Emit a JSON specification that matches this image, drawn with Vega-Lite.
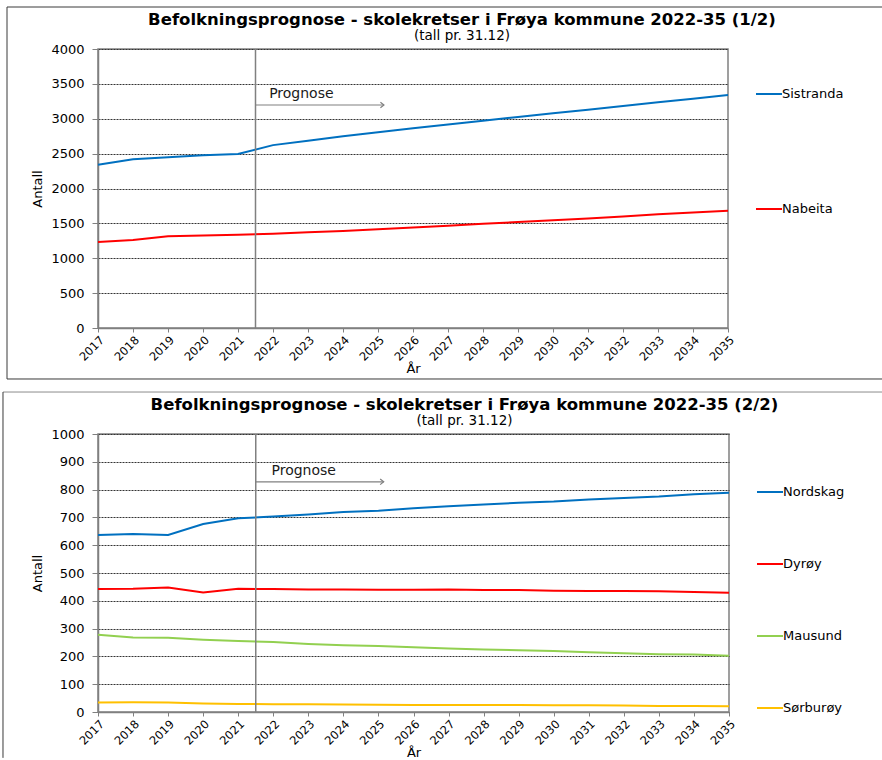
{
  "$schema": "https://vega.github.io/schema/vega-lite/v6.json",
  "padding": {"left": 1, "top": 5, "right": 0, "bottom": 0},
  "background": "white",
  "spacing": 9,
  "datasets": {
    "p1": [
      {"year": 2017, "krets": "Sistranda", "antall": 2340},
      {"year": 2018, "krets": "Sistranda", "antall": 2419},
      {"year": 2019, "krets": "Sistranda", "antall": 2447},
      {"year": 2020, "krets": "Sistranda", "antall": 2475},
      {"year": 2021, "krets": "Sistranda", "antall": 2495},
      {"year": 2022, "krets": "Sistranda", "antall": 2622},
      {"year": 2023, "krets": "Sistranda", "antall": 2685},
      {"year": 2024, "krets": "Sistranda", "antall": 2748},
      {"year": 2025, "krets": "Sistranda", "antall": 2808},
      {"year": 2026, "krets": "Sistranda", "antall": 2864},
      {"year": 2027, "krets": "Sistranda", "antall": 2918},
      {"year": 2028, "krets": "Sistranda", "antall": 2972},
      {"year": 2029, "krets": "Sistranda", "antall": 3026},
      {"year": 2030, "krets": "Sistranda", "antall": 3078},
      {"year": 2031, "krets": "Sistranda", "antall": 3130},
      {"year": 2032, "krets": "Sistranda", "antall": 3183},
      {"year": 2033, "krets": "Sistranda", "antall": 3236},
      {"year": 2034, "krets": "Sistranda", "antall": 3288},
      {"year": 2035, "krets": "Sistranda", "antall": 3340},
      {"year": 2017, "krets": "Nabeita", "antall": 1232},
      {"year": 2018, "krets": "Nabeita", "antall": 1262},
      {"year": 2019, "krets": "Nabeita", "antall": 1316},
      {"year": 2020, "krets": "Nabeita", "antall": 1326},
      {"year": 2021, "krets": "Nabeita", "antall": 1337},
      {"year": 2022, "krets": "Nabeita", "antall": 1352},
      {"year": 2023, "krets": "Nabeita", "antall": 1372},
      {"year": 2024, "krets": "Nabeita", "antall": 1392},
      {"year": 2025, "krets": "Nabeita", "antall": 1414},
      {"year": 2026, "krets": "Nabeita", "antall": 1440},
      {"year": 2027, "krets": "Nabeita", "antall": 1466},
      {"year": 2028, "krets": "Nabeita", "antall": 1495},
      {"year": 2029, "krets": "Nabeita", "antall": 1520},
      {"year": 2030, "krets": "Nabeita", "antall": 1544},
      {"year": 2031, "krets": "Nabeita", "antall": 1570},
      {"year": 2032, "krets": "Nabeita", "antall": 1600},
      {"year": 2033, "krets": "Nabeita", "antall": 1630},
      {"year": 2034, "krets": "Nabeita", "antall": 1656},
      {"year": 2035, "krets": "Nabeita", "antall": 1681}
    ],
    "p2": [
      {"year": 2017, "krets": "Nordskag", "antall": 637},
      {"year": 2018, "krets": "Nordskag", "antall": 640},
      {"year": 2019, "krets": "Nordskag", "antall": 637},
      {"year": 2020, "krets": "Nordskag", "antall": 676},
      {"year": 2021, "krets": "Nordskag", "antall": 697},
      {"year": 2022, "krets": "Nordskag", "antall": 703},
      {"year": 2023, "krets": "Nordskag", "antall": 710},
      {"year": 2024, "krets": "Nordskag", "antall": 719},
      {"year": 2025, "krets": "Nordskag", "antall": 724},
      {"year": 2026, "krets": "Nordskag", "antall": 733},
      {"year": 2027, "krets": "Nordskag", "antall": 740},
      {"year": 2028, "krets": "Nordskag", "antall": 746},
      {"year": 2029, "krets": "Nordskag", "antall": 753},
      {"year": 2030, "krets": "Nordskag", "antall": 757},
      {"year": 2031, "krets": "Nordskag", "antall": 764},
      {"year": 2032, "krets": "Nordskag", "antall": 770},
      {"year": 2033, "krets": "Nordskag", "antall": 775},
      {"year": 2034, "krets": "Nordskag", "antall": 783},
      {"year": 2035, "krets": "Nordskag", "antall": 789},
      {"year": 2017, "krets": "Dyrøy", "antall": 442},
      {"year": 2018, "krets": "Dyrøy", "antall": 443},
      {"year": 2019, "krets": "Dyrøy", "antall": 448},
      {"year": 2020, "krets": "Dyrøy", "antall": 430},
      {"year": 2021, "krets": "Dyrøy", "antall": 443},
      {"year": 2022, "krets": "Dyrøy", "antall": 442},
      {"year": 2023, "krets": "Dyrøy", "antall": 441},
      {"year": 2024, "krets": "Dyrøy", "antall": 441},
      {"year": 2025, "krets": "Dyrøy", "antall": 440},
      {"year": 2026, "krets": "Dyrøy", "antall": 440},
      {"year": 2027, "krets": "Dyrøy", "antall": 441},
      {"year": 2028, "krets": "Dyrøy", "antall": 439},
      {"year": 2029, "krets": "Dyrøy", "antall": 439},
      {"year": 2030, "krets": "Dyrøy", "antall": 436},
      {"year": 2031, "krets": "Dyrøy", "antall": 435},
      {"year": 2032, "krets": "Dyrøy", "antall": 435},
      {"year": 2033, "krets": "Dyrøy", "antall": 434},
      {"year": 2034, "krets": "Dyrøy", "antall": 432},
      {"year": 2035, "krets": "Dyrøy", "antall": 429},
      {"year": 2017, "krets": "Mausund", "antall": 278},
      {"year": 2018, "krets": "Mausund", "antall": 268},
      {"year": 2019, "krets": "Mausund", "antall": 267},
      {"year": 2020, "krets": "Mausund", "antall": 260},
      {"year": 2021, "krets": "Mausund", "antall": 255},
      {"year": 2022, "krets": "Mausund", "antall": 252},
      {"year": 2023, "krets": "Mausund", "antall": 245},
      {"year": 2024, "krets": "Mausund", "antall": 240},
      {"year": 2025, "krets": "Mausund", "antall": 237},
      {"year": 2026, "krets": "Mausund", "antall": 233},
      {"year": 2027, "krets": "Mausund", "antall": 228},
      {"year": 2028, "krets": "Mausund", "antall": 225},
      {"year": 2029, "krets": "Mausund", "antall": 222},
      {"year": 2030, "krets": "Mausund", "antall": 219},
      {"year": 2031, "krets": "Mausund", "antall": 215},
      {"year": 2032, "krets": "Mausund", "antall": 211},
      {"year": 2033, "krets": "Mausund", "antall": 208},
      {"year": 2034, "krets": "Mausund", "antall": 207},
      {"year": 2035, "krets": "Mausund", "antall": 202},
      {"year": 2017, "krets": "Sørburøy", "antall": 34},
      {"year": 2018, "krets": "Sørburøy", "antall": 35},
      {"year": 2019, "krets": "Sørburøy", "antall": 34},
      {"year": 2020, "krets": "Sørburøy", "antall": 31},
      {"year": 2021, "krets": "Sørburøy", "antall": 29},
      {"year": 2022, "krets": "Sørburøy", "antall": 28},
      {"year": 2023, "krets": "Sørburøy", "antall": 28},
      {"year": 2024, "krets": "Sørburøy", "antall": 27},
      {"year": 2025, "krets": "Sørburøy", "antall": 26},
      {"year": 2026, "krets": "Sørburøy", "antall": 25},
      {"year": 2027, "krets": "Sørburøy", "antall": 25},
      {"year": 2028, "krets": "Sørburøy", "antall": 25},
      {"year": 2029, "krets": "Sørburøy", "antall": 25},
      {"year": 2030, "krets": "Sørburøy", "antall": 24},
      {"year": 2031, "krets": "Sørburøy", "antall": 24},
      {"year": 2032, "krets": "Sørburøy", "antall": 23},
      {"year": 2033, "krets": "Sørburøy", "antall": 22},
      {"year": 2034, "krets": "Sørburøy", "antall": 22},
      {"year": 2035, "krets": "Sørburøy", "antall": 21}
    ]
  },
  "vconcat": [
    {
      "width": 630,
      "height": 279,
      "title": {
        "text": "Befolkningsprognose - skolekretser i Frøya kommune 2022-35 (1/2)",
        "subtitle": "(tall pr. 31.12)",
        "dx": 49,
        "offset": -36
      },
      "layer": [
        {
          "data": {"name": "p1"},
          "mark": {"type": "line", "strokeWidth": 2},
          "encoding": {
            "x": {
              "field": "year", "type": "quantitative", "title": "År",
              "scale": {"domain": [2017, 2035], "nice": false, "zero": false},
              "axis": {"tickCount": 18, "format": "d", "labelAngle": -45, "labelOverlap": false, "labelFlush": false}
            },
            "y": {
              "field": "antall", "type": "quantitative", "title": "Antall",
              "scale": {"domain": [0, 4000], "nice": false},
              "axis": {"tickCount": 8, "format": "d", "labelOverlap": false}
            },
            "color": {
              "field": "krets", "type": "nominal",
              "scale": {"domain": ["Sistranda", "Nabeita"], "range": ["#0070C0", "#FF0000"]},
              "legend": {"orient": "none", "legendX": 657, "legendY": 37, "rowPadding": 99, "clipHeight": 16}
            }
          }
        },
        {
          "data": {"values": [{}]},
          "mark": {"type": "rule", "color": "#808080", "strokeWidth": 1.5},
          "encoding": {
            "x": {"datum": 2021.5, "type": "quantitative", "title": "År"},
            "y": {"datum": 0, "type": "quantitative", "title": "Antall"},
            "y2": {"datum": 4000}
          }
        },
        {
          "data": {"values": [{}]},
          "mark": {"type": "text", "text": "Prognose", "align": "left", "baseline": "middle", "font": "DejaVu Sans", "fontSize": 14, "color": "#1a1a1a"},
          "encoding": {
            "x": {"datum": 2021.89, "type": "quantitative", "title": "År"},
            "y": {"datum": 3355, "type": "quantitative", "title": "Antall"}
          }
        },
        {
          "data": {"values": [{}]},
          "mark": {"type": "rule", "color": "#808080", "strokeWidth": 1.2},
          "encoding": {
            "x": {"datum": 2021.5, "type": "quantitative", "title": "År"},
            "x2": {"datum": 2025.17},
            "y": {"datum": 3197, "type": "quantitative", "title": "Antall"}
          }
        },
        {
          "data": {"values": [{}]},
          "mark": {"type": "point", "shape": "M-1,-0.8L0,0L-1,0.8", "filled": false, "size": 50, "color": "#808080", "strokeWidth": 1.2, "opacity": 1},
          "encoding": {
            "x": {"datum": 2025.17, "type": "quantitative", "title": "År"},
            "y": {"datum": 3197, "type": "quantitative", "title": "Antall"}
          }
        },
        {
          "data": {"values": [{}]},
          "mark": {"type": "rule", "color": "#3a3a3a", "strokeWidth": 1},
          "encoding": {
            "x": {"datum": 2014.4, "type": "quantitative", "title": "År"},
            "x2": {"datum": 2039.42},
            "y": {"datum": 4602, "type": "quantitative", "title": "Antall"}
          }
        },
        {
          "data": {"values": [{}]},
          "mark": {"type": "rule", "color": "#3a3a3a", "strokeWidth": 1},
          "encoding": {
            "x": {"datum": 2014.4, "type": "quantitative", "title": "År"},
            "x2": {"datum": 2039.42},
            "y": {"datum": -731, "type": "quantitative", "title": "Antall"}
          }
        },
        {
          "data": {"values": [{}]},
          "mark": {"type": "rule", "color": "#3a3a3a", "strokeWidth": 1},
          "encoding": {
            "x": {"datum": 2014.4, "type": "quantitative", "title": "År"},
            "y": {"datum": -731, "type": "quantitative", "title": "Antall"},
            "y2": {"datum": 4602}
          }
        }
      ]
    },
    {
      "width": 631,
      "height": 278,
      "title": {
        "text": "Befolkningsprognose - skolekretser i Frøya kommune 2022-35 (2/2)",
        "subtitle": "(tall pr. 31.12)",
        "dx": 51,
        "offset": -36
      },
      "layer": [
        {
          "data": {"name": "p2"},
          "mark": {"type": "line", "strokeWidth": 2},
          "encoding": {
            "x": {
              "field": "year", "type": "quantitative", "title": "År",
              "scale": {"domain": [2017, 2035], "nice": false, "zero": false},
              "axis": {"tickCount": 18, "format": "d", "labelAngle": -45, "labelOverlap": false, "labelFlush": false}
            },
            "y": {
              "field": "antall", "type": "quantitative", "title": "Antall",
              "scale": {"domain": [0, 1000], "nice": false},
              "axis": {"tickCount": 10, "format": "d", "labelOverlap": false}
            },
            "color": {
              "field": "krets", "type": "nominal",
              "scale": {"domain": ["Nordskag", "Dyrøy", "Mausund", "Sørburøy"], "range": ["#0070C0", "#FF0000", "#92D050", "#FFC000"]},
              "legend": {"orient": "none", "legendX": 658, "legendY": 50, "rowPadding": 56, "clipHeight": 16}
            }
          }
        },
        {
          "data": {"values": [{}]},
          "mark": {"type": "rule", "color": "#808080", "strokeWidth": 1.5},
          "encoding": {
            "x": {"datum": 2021.5, "type": "quantitative", "title": "År"},
            "y": {"datum": 0, "type": "quantitative", "title": "Antall"},
            "y2": {"datum": 1000}
          }
        },
        {
          "data": {"values": [{}]},
          "mark": {"type": "text", "text": "Prognose", "align": "left", "baseline": "middle", "font": "DejaVu Sans", "fontSize": 14, "color": "#1a1a1a"},
          "encoding": {
            "x": {"datum": 2021.95, "type": "quantitative", "title": "År"},
            "y": {"datum": 867, "type": "quantitative", "title": "Antall"}
          }
        },
        {
          "data": {"values": [{}]},
          "mark": {"type": "rule", "color": "#808080", "strokeWidth": 1.2},
          "encoding": {
            "x": {"datum": 2021.5, "type": "quantitative", "title": "År"},
            "x2": {"datum": 2025.15},
            "y": {"datum": 828, "type": "quantitative", "title": "Antall"}
          }
        },
        {
          "data": {"values": [{}]},
          "mark": {"type": "point", "shape": "M-1,-0.8L0,0L-1,0.8", "filled": false, "size": 50, "color": "#808080", "strokeWidth": 1.2, "opacity": 1},
          "encoding": {
            "x": {"datum": 2025.15, "type": "quantitative", "title": "År"},
            "y": {"datum": 828, "type": "quantitative", "title": "Antall"}
          }
        },
        {
          "data": {"values": [{}]},
          "mark": {"type": "rule", "color": "#8c8c8c", "strokeWidth": 1},
          "encoding": {
            "x": {"datum": 2014.29, "type": "quantitative", "title": "År"},
            "x2": {"datum": 2039.38},
            "y": {"datum": 1151, "type": "quantitative", "title": "Antall"}
          }
        },
        {
          "data": {"values": [{}]},
          "mark": {"type": "rule", "color": "#3a3a3a", "strokeWidth": 1},
          "encoding": {
            "x": {"datum": 2014.29, "type": "quantitative", "title": "År"},
            "y": {"datum": -165, "type": "quantitative", "title": "Antall"},
            "y2": {"datum": 1151}
          }
        }
      ]
    }
  ],
  "resolve": {"scale": {"color": "independent", "x": "independent", "y": "independent"}, "legend": {"color": "independent"}},
  "config": {
    "font": "DejaVu Sans",
    "view": {"stroke": "#808080", "strokeWidth": 1.5},
    "title": {
      "anchor": "middle",
      "font": "DejaVu Sans",
      "fontSize": 16.5,
      "fontWeight": "bold",
      "color": "#000000",
      "subtitleFont": "DejaVu Sans",
      "subtitleFontSize": 13.5,
      "subtitleColor": "#000000",
      "subtitlePadding": 1
    },
    "axis": {
      "domainColor": "#808080",
      "domainWidth": 1.5,
      "tickColor": "#808080",
      "labelFont": "DejaVu Sans",
      "labelColor": "#000000",
      "titleFont": "DejaVu Sans",
      "titleFontSize": 13,
      "titleFontWeight": "normal",
      "titleColor": "#000000"
    },
    "axisY": {
      "grid": true,
      "gridDash": [2, 1],
      "gridColor": "#333333",
      "gridWidth": 1,
      "tickSize": 6,
      "labelFontSize": 13,
      "labelPadding": 8,
      "titlePadding": 6
    },
    "axisX": {
      "grid": false,
      "tickSize": 4,
      "labelFontSize": 11.5,
      "labelPadding": 2,
      "titlePadding": 0
    },
    "legend": {
      "title": null,
      "symbolType": "stroke",
      "symbolSize": 676,
      "symbolStrokeWidth": 2,
      "labelFont": "DejaVu Sans",
      "labelFontSize": 13,
      "labelColor": "#000000",
      "labelOffset": -1,
      "padding": 0
    }
  }
}
